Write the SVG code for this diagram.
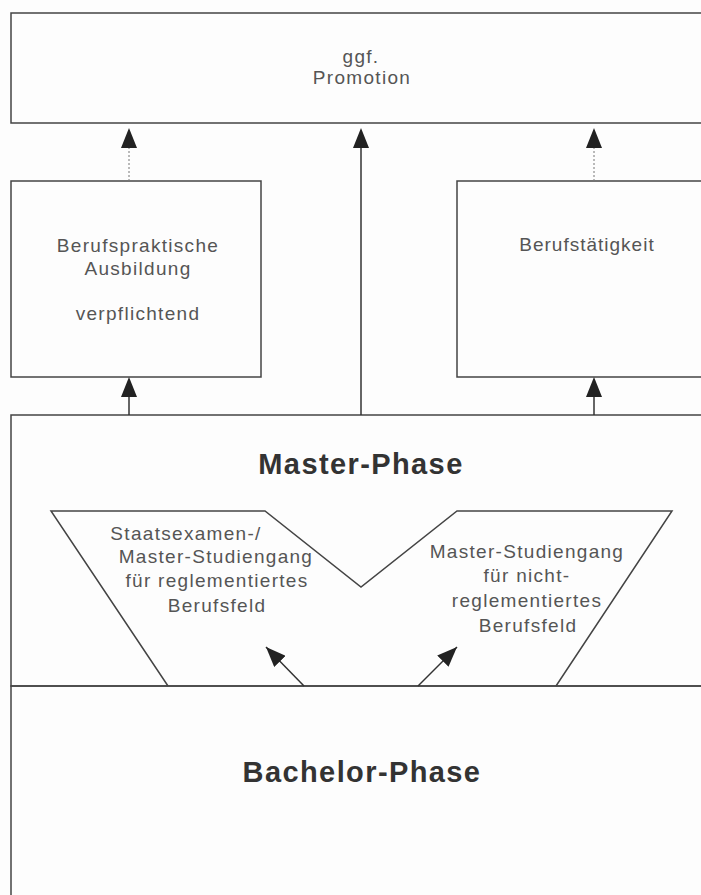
<svg xmlns="http://www.w3.org/2000/svg" width="701" height="895" viewBox="0 0 701 895">
<defs>
<marker id="ahb" viewBox="0 0 20 16" refX="20" refY="8" markerWidth="20" markerHeight="16" markerUnits="userSpaceOnUse" orient="auto">
<path d="M0,0 L20,8 L0,16 z" fill="#222"/>
</marker>
</defs>
<style>
.box{fill:none;stroke:#444;stroke-width:1.5}
.t{font-family:"Liberation Sans",Arial,sans-serif;font-size:19px;letter-spacing:1.3px;fill:#555;text-anchor:middle}
.b{font-family:"Liberation Sans",Arial,sans-serif;font-size:29px;letter-spacing:1.4px;font-weight:bold;fill:#333;text-anchor:middle}
.solid{stroke:#333;stroke-width:1.5;fill:none}
.dot{stroke:#777;stroke-width:1;stroke-dasharray:2 2;fill:none}
.head{fill:#222}
</style>
<rect width="701" height="895" fill="#fdfdfd"/>
<g id="promotion">
<path class="box" d="M702,13 H11 V123 H702"/>
<text class="t" x="361" y="63">ggf.</text>
<text class="t" x="362" y="84">Promotion</text>
</g>
<g id="berufspraktisch">
<rect class="box" x="11" y="181" width="250" height="196"/>
<text class="t" x="138" y="252">Berufspraktische</text>
<text class="t" x="138" y="275">Ausbildung</text>
<text class="t" x="138" y="320">verpflichtend</text>
</g>
<g id="berufstaetigkeit">
<path class="box" d="M702,181 H457 V377 H702"/>
<text class="t" x="587" y="251" style="letter-spacing:1px">Berufstätigkeit</text>
</g>
<g id="master">
<path class="box" d="M702,415 H11 V686 H702"/>
<text class="b" x="361" y="474">Master-Phase</text>
<path class="box" d="M168,686 L51,511 H265 L361,587 L457,511 H672 L556,686"/>
<text class="t" x="186" y="540">Staatsexamen-/</text>
<text class="t" x="216" y="563">Master-Studiengang</text>
<text class="t" x="217" y="587">für reglementiertes</text>
<text class="t" x="217" y="612">Berufsfeld</text>
<text class="t" x="527" y="558">Master-Studiengang</text>
<text class="t" x="527" y="582">für nicht-</text>
<text class="t" x="527" y="607">reglementiertes</text>
<text class="t" x="528" y="632">Berufsfeld</text>
</g>
<g id="bachelor">
<path class="box" d="M11,895 V686 H702"/>
<text class="b" x="362" y="782">Bachelor-Phase</text>
</g>
<g id="connectors">
<line class="dot" x1="129" y1="181" x2="129" y2="147"/>
<path class="head" d="M129,128 L121,148 L137,148 z"/>
<line class="solid" x1="361" y1="415" x2="361" y2="147"/>
<path class="head" d="M361,128 L353,148 L369,148 z"/>
<line class="dot" x1="594" y1="181" x2="594" y2="147"/>
<path class="head" d="M594,128 L586,148 L602,148 z"/>
<line class="solid" x1="129" y1="415" x2="129" y2="396"/>
<path class="head" d="M129,377 L121,397 L137,397 z"/>
<line class="solid" x1="594" y1="415" x2="594" y2="396"/>
<path class="head" d="M594,377 L586,397 L602,397 z"/>
<line class="solid" x1="304" y1="686" x2="266" y2="647" marker-end="url(#ahb)"/>
<line class="solid" x1="418" y1="686" x2="457" y2="647" marker-end="url(#ahb)"/>
</g>
</svg>
